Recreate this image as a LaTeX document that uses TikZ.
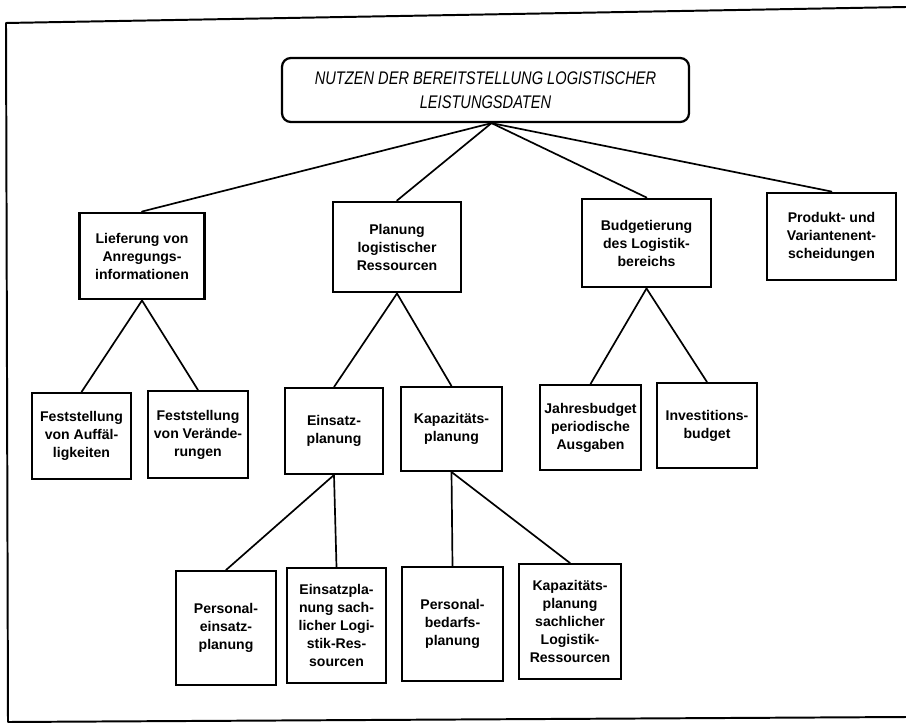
\documentclass[tikz,border=0pt]{standalone}
\usepackage{fontspec}
\setmainfont{Liberation Sans}
\newfontfamily\headfont[FakeStretch=0.8]{Liberation Sans}

% one unit = one pixel of the scanned page
\def\pxu{0.025cm}

\begin{document}
\begin{tikzpicture}[
    x=\pxu, y=-\pxu,
    frame/.style          = {line width=1.4pt, line cap=round, line join=round},
    rootbox/.style        = {draw, line width=1.6pt, rounded corners=0.22cm, align=center,
                             font=\headfont\itshape\fontsize{13}{17}\selectfont},
    mainbox/.style        = {draw, line width=2.1pt, align=center,
                             font=\bfseries\fontsize{10}{12.8}\selectfont},
    subbox/.style         = {draw, line width=1.4pt, align=center,
                             font=\bfseries\fontsize{10}{12.8}\selectfont},
    boxsize/.style 2 args = {minimum width=#1*\pxu, minimum height=#2*\pxu},
    branch/.style         = {line width=1.2pt, line cap=round}
  ]

\useasboundingbox (0,0) rectangle (906,728);

% =========================================================
% Page frame (slightly skewed scan)
% =========================================================
\draw[frame] (906,7) -- (6,23) -- (8,722) -- (906,717);

% =========================================================
% Root
% =========================================================
\node[rootbox, boxsize={407}{64}] (root) at (485.5,90)
  {NUTZEN DER BEREITSTELLUNG LOGISTISCHER\\LEISTUNGSDATEN};
\coordinate (apex) at ([xshift=0.15cm]root.south);

% =========================================================
% Level 1 -- main uses (thick frames)
% =========================================================
\node[mainbox, boxsize={125}{86}] (liefer)  at (142,256)
  {Lieferung von\\Anregungs-\\informationen};
\node[mainbox, boxsize={128}{90}] (planung) at (397,247)
  {Planung\\logistischer\\Ressourcen};
\node[mainbox, boxsize={129}{88}] (budget)  at (646.5,243)
  {Budgetierung\\des Logistik-\\bereichs};
\node[mainbox, boxsize={129}{87}] (produkt) at (831.5,236.5)
  {Produkt- und\\Variantenent-\\scheidungen};

% =========================================================
% Level 2
% =========================================================
\node[subbox, boxsize={99}{86}]  (auffall) at (81.5,436)
  {Feststellung\\von Auffäl-\\ligkeiten};
\node[subbox, boxsize={100}{87}] (veraend) at (198,434.5)
  {Feststellung\\von Verände-\\rungen};
\node[subbox, boxsize={98}{86}]  (einsatz) at (334,431)
  {Einsatz-\\planung};
\node[subbox, boxsize={101}{84}] (kapaz)   at (451.5,429)
  {Kapazitäts-\\planung};
\node[subbox, boxsize={101}{85}] (jahres)  at (590.5,427.5)
  {Jahresbudget\\periodische\\Ausgaben};
\node[subbox, boxsize={100}{85}] (invest)  at (707,425.5)
  {Investitions-\\budget};

% =========================================================
% Level 3
% =========================================================
\node[subbox, boxsize={100}{114}] (perseins) at (226,628)
  {Personal-\\einsatz-\\planung};
\node[subbox, boxsize={99}{115}]  (sacheins) at (336.5,625.5)
  {Einsatzpla-\\nung sach-\\licher Logi-\\stik-Res-\\sourcen};
\node[subbox, boxsize={101}{114}] (persbed)  at (452.5,624)
  {Personal-\\bedarfs-\\planung};
\node[subbox, boxsize={102}{115}] (sachkap)  at (570,621.5)
  {Kapazitäts-\\planung\\sachlicher\\Logistik-\\Ressourcen};

% =========================================================
% Branches
% =========================================================
\foreach \c in {liefer,planung,budget,produkt}
  \draw[branch] (apex) -- (\c.north);

\draw[branch] (liefer.south)  -- (auffall.north);
\draw[branch] (liefer.south)  -- (veraend.north);
\draw[branch] (planung.south) -- (einsatz.north);
\draw[branch] (planung.south) -- (kapaz.north);
\draw[branch] (budget.south)  -- (jahres.north);
\draw[branch] (budget.south)  -- (invest.north);

\draw[branch] (einsatz.south) -- (perseins.north);
\draw[branch] (einsatz.south) -- (sacheins.north);
\draw[branch] (kapaz.south)   -- (persbed.north);
\draw[branch] (kapaz.south)   -- (sachkap.north);

\end{tikzpicture}
\end{document}
